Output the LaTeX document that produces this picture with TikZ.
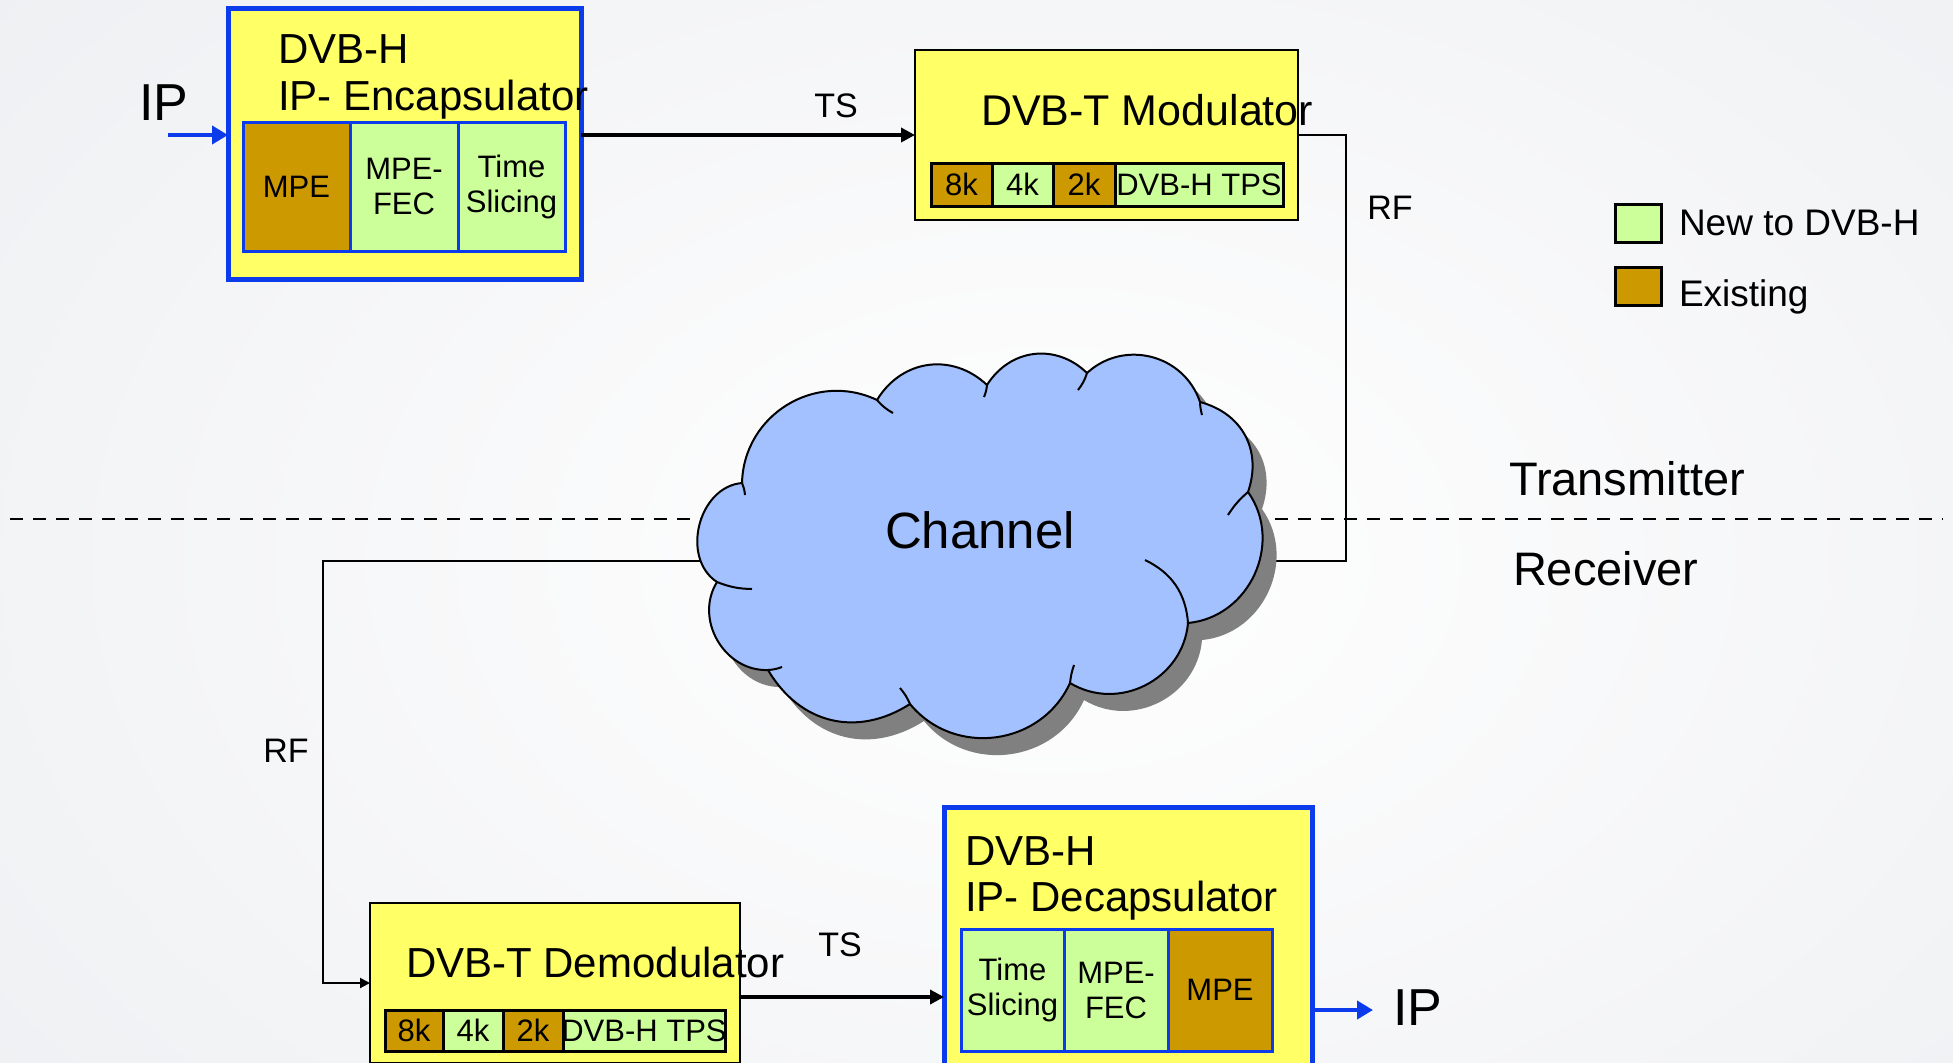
\documentclass[tikz,border=0pt]{standalone}
\usepackage{fontspec}
\setmainfont{Liberation Sans}
\usetikzlibrary{arrows.meta,fit}

\definecolor{boxyellow}{HTML}{FFFF66}
\definecolor{newgreen}{HTML}{CCFF99}
\definecolor{oldbrown}{HTML}{CC9900}
\definecolor{frameblue}{HTML}{0B3BEB}
\definecolor{cloudblue}{HTML}{A3C1FF}
\definecolor{shadowgray}{HTML}{808080}
\definecolor{bggray}{HTML}{E6E8EC}

\newcommand{\fsz}[2]{\fontsize{#1}{#2}\selectfont}

% outline of the channel cloud (pixel grid, y downwards)
\def\cloudoutline{(742,483) to[bump=57] (877,400) to[bump=51] (987,385)
  to[bump=51] (1087,373) to[bump=57] (1200,402) to[bump=47] (1248,492)
  to[bump=60] (1188,623) to[bump=58] (1070,683) to[bump=58] (910,704)
  to[bump=46] (768,670) to[bump=62] (717,582) to[bump=71] (742,483) -- cycle}

\begin{document}
\begin{tikzpicture}[x=0.5pt,y=-0.5pt,
  every node/.style={inner sep=0pt,outer sep=0pt},
  bump/.style={bend left=#1,looseness=1.1},
  ipbox/.style={draw=frameblue,line width=2.5pt,fill=boxyellow},
  dvbtbox/.style={draw=black,line width=1pt,fill=boxyellow},
  newcell/.style={fill=newgreen},
  oldcell/.style={fill=oldbrown},
  bluecell/.style={draw=frameblue,line width=1.5pt},
  blackcell/.style={draw=black,line width=1.5pt},
  celltxt/.style={align=center,font={\fsz{15.5pt}{17.5pt}}},
  txt/.style={label={[celltxt]center:{#1}}},
  boxtitle/.style={anchor=base west,font={\fsz{21pt}{24pt}}},
  smalllabel/.style={font={\fsz{17pt}{19pt}}},
  siglabel/.style={anchor=base west,font={\fsz{26pt}{28pt}}},
  sidelabel/.style={anchor=base west,font={\fsz{23.5pt}{26pt}}},
  legendtext/.style={anchor=base west,font={\fsz{18.5pt}{20pt}}},
  bluearrow/.style={draw=frameblue,line width=2.2pt,-{Triangle[length=8pt,width=9pt]}},
  tsarrow/.style={draw=black,line width=2pt,-{Triangle[length=7pt,width=7pt]}},
  rfline/.style={draw=black,line width=1pt},
  rfarrow/.style={rfline,-{Triangle[length=5pt,width=5pt]}},
  cloudline/.style={draw=black,line width=1pt},
  divider/.style={draw=black,line width=1pt,dash pattern=on 6.5pt off 5pt}]

\useasboundingbox (0,0) rectangle (1953,1062);
\clip (0,0) rectangle (1953,1062);

% soft backdrop
\fill[bggray] (0,0) rectangle (1953,1062);
\shade[inner color=white,outer color=bggray] (1050,560) ellipse [x radius=2100,y radius=1400];

% transmitter / receiver divider
\coordinate (divL) at (10,519);
\coordinate (divR) at (1943,519);
\draw[divider] (divL) -- (divR);
\node[sidelabel] (tx) at (1509,495) {Transmitter};
\node[sidelabel] (rx) at (1513,585) {Receiver};

% ---------------- transmitter side ----------------
\node[ipbox,fit={(228,8)(581,279)}] (enc) {};
\node[oldcell,bluecell,fit={(243,122)(350,251)},txt=MPE] (encA) {};
\node[newcell,bluecell,fit={(350,122)(458,251)},txt=MPE-\\FEC] (encB) {};
\node[newcell,bluecell,fit={(458,122)(565,251)},txt=Time\\Slicing] (encC) {};
\node[boxtitle] (encT1) at (278,63) {DVB-H};
\node[boxtitle] (encT2) at (278,110) {IP- Encapsulator};

\node[dvbtbox,fit={(915,50)(1298,220)}] (mod) {};
\node[oldcell,blackcell,fit={(931,163)(992,206)},txt=8k] (modA) {};
\node[newcell,blackcell,fit={(992,163)(1053,206)},txt=4k] (modB) {};
\node[oldcell,blackcell,fit={(1053,163)(1115,206)},txt=2k] (modC) {};
\node[newcell,blackcell,fit={(1115,163)(1283,206)},txt=DVB-H TPS] (modD) {};
\node[boxtitle,font={\fsz{21.5pt}{24pt}}] (modT) at (981,125) {DVB-T Modulator};

\coordinate (ipsrc) at (168,135);
\node[siglabel] (ipIn) at (139,120) {IP};
\draw[bluearrow] (ipsrc) -- (ipsrc -| enc.west);
\draw[tsarrow] (enc.east |- mod.west) -- (mod.west);
\node[smalllabel] (tsTop) at (836,106) {TS};

\coordinate (rfTx) at (1346,561);
\coordinate (chanE) at (1230,561);
\draw[rfline] (mod.east) -| (rfTx) -- (chanE);
\node[smalllabel] (rfTop) at (1390,208) {RF};

% ---------------- receiver side ----------------
\node[dvbtbox,fit={(370,903)(740,1063)}] (demod) {};
\node[oldcell,blackcell,fit={(385,1010)(443,1051)},txt=8k] (demA) {};
\node[newcell,blackcell,fit={(443,1010)(503,1051)},txt=4k] (demB) {};
\node[oldcell,blackcell,fit={(503,1010)(563,1051)},txt=2k] (demC) {};
\node[newcell,blackcell,fit={(563,1010)(725,1051)},txt=DVB-H TPS] (demD) {};
\node[boxtitle] (demT) at (406,977) {DVB-T Demodulator};

\node[ipbox,fit={(944,807)(1312,1187)}] (dec) {};
\node[newcell,bluecell,fit={(961,929)(1064,1051)},txt=Time\\Slicing] (decA) {};
\node[newcell,bluecell,fit={(1064,929)(1168,1051)},txt=MPE-\\FEC] (decB) {};
\node[oldcell,bluecell,fit={(1168,929)(1272,1051)},txt=MPE] (decC) {};
\node[boxtitle] (decT1) at (965,865) {DVB-H};
\node[boxtitle] (decT2) at (965,911) {IP- Decapsulator};

\coordinate (chanW) at (730,561);
\coordinate (rfRx) at (323,561);
\draw[rfarrow] (chanW) -- (rfRx) |- (demod.west);
\node[smalllabel] (rfBot) at (286,751) {RF};

\draw[tsarrow] (demod.east |- dec.west) -- (dec.west);
\node[smalllabel] (tsBot) at (840,945) {TS};

\coordinate (ipdst) at (1373,1010);
\draw[bluearrow] (dec.east |- ipdst) -- (ipdst);
\node[siglabel] (ipOut) at (1393,1025) {IP};

% ---------------- channel cloud ----------------
\fill[shadowgray,shift={(14,17)}] \cloudoutline;
\filldraw[fill=cloudblue,cloudline] \cloudoutline;
\draw[cloudline] (742,483) to[bend left=8] (745,495);
\draw[cloudline] (877,400) to[bend right=10] (893,413);
\draw[cloudline] (987,385) to[bend left=8] (984,397);
\draw[cloudline] (1087,373) to[bend left=10] (1078,390);
\draw[cloudline] (1200,402) to[bend right=6] (1202,415);
\draw[cloudline] (1248,492) to[bend right=8] (1228,515);
\draw[cloudline] (1188,623) to[bend right=30] (1145,560);
\draw[cloudline] (1070,683) to[bend left=6] (1074,665);
\draw[cloudline] (910,704) to[bend right=8] (900,688);
\draw[cloudline] (768,670) to[bend right=8] (782,667);
\draw[cloudline] (717,582) to[bend right=10] (752,589);
\node[font={\fsz{25.5pt}{28pt}},anchor=base] (chan) at (980,548) {Channel};

% ---------------- legend ----------------
\node[newcell,blackcell,fit={(1615,204)(1661,242)}] (legNew) {};
\node[oldcell,blackcell,fit={(1615,267)(1661,305)}] (legOld) {};
\node[legendtext] (legNewT) at (1679,235) {New to DVB-H};
\node[legendtext] (legOldT) at (1679,306) {Existing};

\end{tikzpicture}
\end{document}
